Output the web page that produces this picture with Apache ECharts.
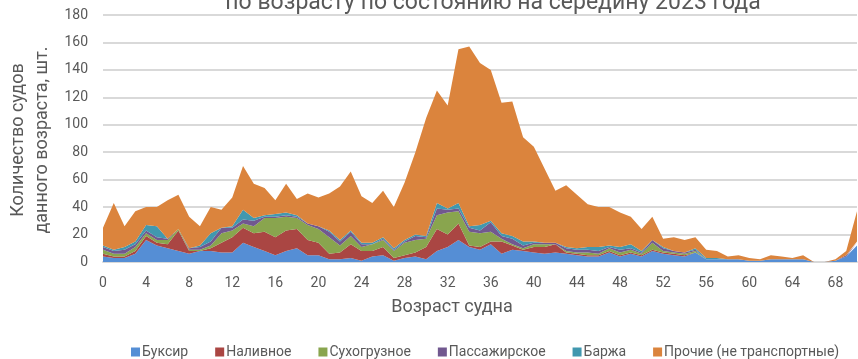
<!DOCTYPE html>
<html>
<head>
<meta charset="utf-8">
<script src="https://cdn.jsdelivr.net/npm/echarts@6/dist/echarts.min.js"></script>
<style>
  html, body { margin: 0; padding: 0; background: #fff; }
  #chart { width: 858px; height: 359px; }
</style>
</head>
<body>
<div id="chart"></div>
<script>
// Vessel age, years (0 .. 70)
const ages = Array.from({ length: 71 }, (_, i) => String(i));

// Number of vessels of each type by age
const tugs = [4,3,3,6,16,12,10,8,6,8,8,7,7,14,11,8,5,8,10,5,5,2,2,3,1,4,5,1,3,4,2,8,11,16,11,9,13,6,9,8,7,6,7,6,5,4,4,7,4,6,4,8,6,5,4,7,2,2,2,2,1,1,2,2,2,2,0,0,1,4,12];
const tankers = [2,1,1,2,3,2,3,15,2,0,2,7,11,11,10,14,13,15,14,11,9,4,5,10,7,4,6,2,2,3,9,16,9,12,1,2,2,9,3,1,4,5,6,1,1,1,1,1,1,1,1,1,1,1,1,0,0,0,0,0,0,0,0,0,0,0,0,0,0,0,1];
const dryCargo = [3,2,2,3,2,2,3,1,1,1,2,7,5,3,5,10,14,10,8,11,10,12,5,6,3,5,5,5,9,9,6,10,16,9,10,10,7,2,1,1,2,2,0,1,1,2,1,2,2,2,1,5,1,1,1,1,0,0,0,0,0,0,0,0,0,0,0,0,0,0,0];
const passenger = [2,2,3,2,2,2,1,0,1,2,3,4,2,3,4,1,1,1,1,1,2,4,3,3,2,0,1,1,1,3,1,5,2,2,3,2,7,2,4,2,1,1,1,2,2,2,2,1,2,1,1,2,2,1,1,1,0,0,0,0,0,0,0,0,0,0,0,0,0,1,1];
const barges = [1,1,2,2,4,8,0,0,0,1,6,0,1,7,2,1,2,2,1,0,0,1,1,1,1,1,1,1,1,1,1,4,1,4,1,4,1,2,2,3,1,0,0,1,1,2,3,1,2,3,1,0,1,0,0,1,1,1,0,0,0,0,0,0,0,0,0,0,0,0,1];
const other = [13,34,15,22,13,14,28,25,23,14,19,13,21,32,25,20,10,21,12,22,21,27,39,43,34,29,34,30,42,60,86,82,75,112,131,118,110,95,98,76,69,54,38,45,39,31,29,28,25,20,16,17,6,10,9,8,6,5,2,3,2,1,3,2,1,3,0,0,1,3,22];

const seriesNames = ['Буксир', 'Наливное', 'Сухогрузное', 'Пассажирское', 'Баржа', 'Прочие (не транспортные)'];
const seriesColors = ['#558ED5', '#AA4643', '#89A54E', '#71588F', '#4198AF', '#DB843D'];
const seriesData = [tugs, tankers, dryCargo, passenger, barges, other];

// Y axis ticks
const yMin = 0, yMax = 180, yStep = 20;

const FONT = 'Roboto, sans-serif';
const TEXT = '#595959';
const GRID = '#D9D9D9';

const chart = echarts.init(document.getElementById('chart'), null, { renderer: 'canvas' });

chart.setOption({
  animation: false,
  color: seriesColors,
  grid: { left: 103, right: 1, top: 15, bottom: 97, containLabel: false },
  xAxis: {
    type: 'category',
    data: ages,
    boundaryGap: false,
    axisTick: { show: false },
    axisLine: { lineStyle: { color: GRID, width: 2 } },
    axisLabel: { interval: 3, color: TEXT, fontSize: 14, fontFamily: FONT, margin: 14 },
    splitLine: { show: false }
  },
  yAxis: {
    type: 'value',
    min: yMin, max: yMax, interval: yStep,
    axisLine: { show: false },
    axisTick: { show: false },
    axisLabel: { color: TEXT, fontSize: 14, fontFamily: FONT, margin: 15 },
    splitLine: { lineStyle: { color: GRID, width: 2 } }
  },
  legend: {
    data: seriesNames,
    left: 126, top: 340,
    icon: 'rect', itemWidth: 9, itemHeight: 9, itemGap: 27,
    textStyle: { color: TEXT, fontSize: 14, fontFamily: FONT, padding: [0, 0, 0, -3] }
  },
  graphic: [
    {
      type: 'text', x: 493, y: 15,
      style: { text: 'по возрасту по состоянию на середину 2023 года', fill: TEXT, font: '23px ' + FONT, textAlign: 'center', textVerticalAlign: 'bottom' }
    },
    {
      type: 'text', x: 452, y: 307,
      style: { text: 'Возраст судна', fill: TEXT, font: '18px ' + FONT, textAlign: 'center', textVerticalAlign: 'middle' }
    },
    {
      type: 'text', x: 30, y: 140, rotation: Math.PI / 2,
      style: { text: 'Количество судов\nданного возраста, шт.', fill: TEXT, font: '18px ' + FONT, lineHeight: 24, textAlign: 'center', textVerticalAlign: 'middle' }
    }
  ],
  series: seriesNames.map((name, k) => ({
    name,
    type: 'line',
    stack: 'total',
    data: seriesData[k],
    symbol: 'none',
    lineStyle: { width: 0 },
    areaStyle: { color: seriesColors[k], opacity: 1 },
    emphasis: { disabled: true }
  }))
});
</script>
</body>
</html>
